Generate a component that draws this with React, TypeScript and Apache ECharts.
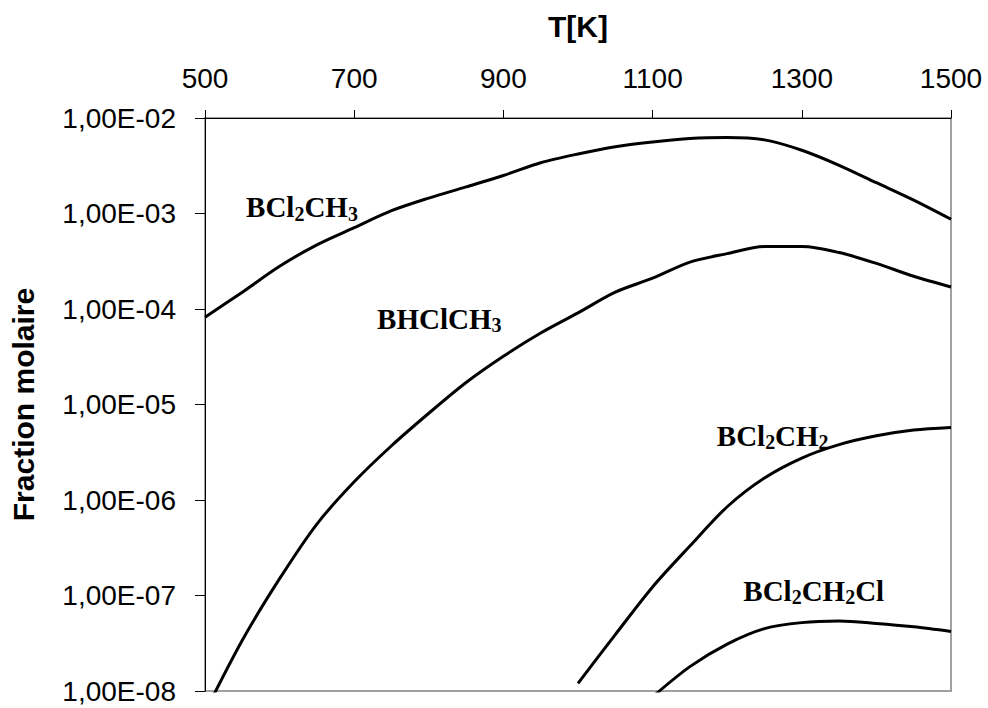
import React, { useEffect, useRef } from "react";
import * as echarts from "echarts";

const tempsAll = [500, 550, 600, 650, 700, 750, 800, 850, 900, 950, 1000, 1050, 1100, 1150, 1200, 1250, 1300, 1350, 1400, 1450, 1500];
const tempsFrom1000 = [1000, 1050, 1100, 1150, 1200, 1250, 1300, 1350, 1400, 1450, 1500];
const tempsFrom1100 = [1100, 1150, 1200, 1250, 1300, 1350, 1400, 1450, 1500];

const bcl2ch3 = [8.2e-5, 1.5e-4, 2.8e-4, 4.7e-4, 7.1e-4, 1.07e-3, 1.45e-3, 1.9e-3, 2.5e-3, 3.4e-3, 4.2e-3, 5.0e-3, 5.6e-3, 6.1e-3, 6.25e-3, 5.9e-3, 4.6e-3, 3.2e-3, 2.1e-3, 1.38e-3, 8.7e-4];
const bhclch3 = [6.0e-9, 3.4e-8, 1.5e-7, 5.6e-7, 1.55e-6, 3.7e-6, 8.1e-6, 1.7e-5, 3.2e-5, 5.6e-5, 9.1e-5, 1.5e-4, 2.1e-4, 3.1e-4, 3.8e-4, 4.5e-4, 4.5e-4, 3.9e-4, 3.0e-4, 2.2e-4, 1.7e-4];
const bcl2ch2 = [1.2e-8, 3.9e-8, 1.23e-7, 3.3e-7, 8.5e-7, 1.7e-6, 2.75e-6, 3.8e-6, 4.7e-6, 5.4e-6, 5.75e-6];
const bcl2ch2cl = [8.7e-9, 1.8e-8, 3.1e-8, 4.5e-8, 5.2e-8, 5.4e-8, 5.1e-8, 4.7e-8, 4.2e-8];

const xTicks = { min: 500, max: 1500, interval: 200 };
const yRange = { min: 1e-8, max: 1e-2 };

// label anchor positions (data space) and rich-text formula
const labels = [
  { series: 0, coord: [630, 1.14e-3], text: "{b|BCl}{s|2}{b|CH}{s|3}" },
  { series: 1, coord: [814, 7.7e-5], text: "{b|BHClCH}{s|3}" },
  { series: 2, coord: [1261, 4.6e-6], text: "{b|BCl}{s|2}{b|CH}{s|2}" },
  { series: 3, coord: [1316, 1.1e-7], text: "{b|BCl}{s|2}{b|CH}{s|2}{b|Cl}" },
];

const pair = (xs: number[], ys: number[]) => xs.map((x, i) => [x, ys[i]]);

const fmtY = (v: number) => {
  const e = Math.round(Math.log10(v));
  const a = Math.abs(e);
  return "1,00E" + (e < 0 ? "-" : "+") + (a < 10 ? "0" + a : "" + a);
};

export default function App() {
  const ref = useRef<HTMLDivElement>(null);
  useEffect(() => {
    if (!ref.current) return;
    const chart = echarts.init(ref.current, null, { renderer: "svg" });
    const sans = "'Liberation Sans', Arial, sans-serif";
    const serif = "'Liberation Serif', 'Times New Roman', serif";
    const rich = {
      b: { fontFamily: serif, fontWeight: "bold", fontSize: 29, color: "#000", lineHeight: 31, verticalAlign: "top" },
      s: { fontFamily: serif, fontWeight: "bold", fontSize: 20, color: "#000", lineHeight: 17, verticalAlign: "bottom" },
    };
    const datasets = [pair(tempsAll, bcl2ch3), pair(tempsAll, bhclch3), pair(tempsFrom1000, bcl2ch2), pair(tempsFrom1100, bcl2ch2cl)];
    const names = ["BCl2CH3", "BHClCH3", "BCl2CH2", "BCl2CH2Cl"];
    const series = datasets.map((d, i) => {
      const lab = labels.find((l) => l.series === i)!;
      return {
        type: "line",
        name: names[i],
        data: d,
        showSymbol: false,
        symbol: "none",
        smooth: 0.3,
        clip: true,
        lineStyle: { color: "#000", width: 3 },
        markPoint: {
          symbol: "circle",
          symbolSize: 0,
          data: [{ coord: lab.coord }],
          label: { show: true, position: "inside", formatter: lab.text, rich },
          itemStyle: { color: "transparent" },
        },
      };
    });
    chart.setOption({
      animation: false,
      backgroundColor: "#fff",
      grid: { left: 203, top: 118, right: 37, bottom: 17, show: true, borderColor: "#a0a0a0", borderWidth: 2, backgroundColor: "transparent" },
      xAxis: {
        type: "value",
        position: "top",
        min: xTicks.min,
        max: xTicks.max,
        interval: xTicks.interval,
        name: "T[K]",
        nameLocation: "middle",
        nameGap: 77,
        nameTextStyle: { fontFamily: sans, fontWeight: "bold", fontSize: 30, color: "#000" },
        axisLine: { show: true, lineStyle: { color: "#000", width: 1 } },
        axisTick: { show: true, inside: false, length: 8, lineStyle: { color: "#000" } },
        axisLabel: { fontFamily: sans, fontSize: 28, color: "#000", margin: 26, formatter: (v: number) => String(v) },
        splitLine: { show: false },
      },
      yAxis: {
        type: "log",
        logBase: 10,
        min: yRange.min,
        max: yRange.max,
        name: "Fraction molaire",
        nameLocation: "middle",
        nameGap: 167,
        nameTextStyle: { fontFamily: sans, fontWeight: "bold", fontSize: 30, color: "#000" },
        axisLine: { show: true, lineStyle: { color: "#000", width: 1 } },
        axisTick: { show: true, inside: false, length: 10, lineStyle: { color: "#000" } },
        minorTick: { show: false },
        axisLabel: { fontFamily: sans, fontSize: 28, color: "#000", margin: 29, formatter: fmtY },
        splitLine: { show: false },
      },
      series,
    });
    return () => chart.dispose();
  }, []);
  return <div ref={ref} style={{ width: 988, height: 708, position: "absolute", left: 0, top: 0 }} />;
}
